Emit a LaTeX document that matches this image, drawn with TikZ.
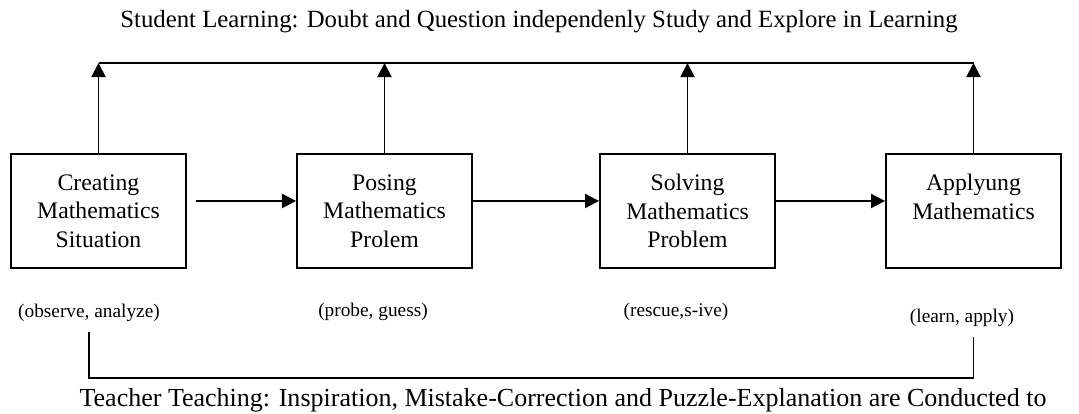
\documentclass[tikz,border=0pt]{standalone}
\usepackage{fontspec}
\setmainfont{Liberation Serif}
\usetikzlibrary{arrows.meta,positioning,calc}

\begin{document}
\begin{tikzpicture}[x=0.02cm, y=0.02cm, line width=1.1pt,
  stage/.style={draw, minimum width=3.5cm, minimum height=2.28cm, align=center,
    inner sep=2pt, font=\fontsize{13.5}{16.2}\selectfont},
  note/.style={font=\fontsize{11}{13}\selectfont},
  flow/.style={-{Triangle[length=8pt,width=8pt]}}]
  \useasboundingbox (0,0) rectangle (1079,413);
  % title line
  \node[font=\fontsize{14.1}{16}\selectfont] (learn) at (539,391)
    {Student Learning: Doubt and Question independenly Study and Explore in Learning};
  % stages
  \node[stage] (create) at (98.5,202) {Creating\\Mathematics\\Situation};
  \node[stage] (pose) at (384.5,202) {Posing\\Mathematics\\Prolem};
  \node[stage] (solve) at (687.5,202) {Solving\\Mathematics\\Problem};
  \node[stage] (apply) at (973.5,202) {Applyung\\Mathematics\\~};
  % arrows between stages
  \draw[flow] ([xshift=5pt,yshift=5.7pt]create.east) -- ([yshift=5.7pt]pose.west);
  \draw[flow] ([yshift=5.7pt]pose.east) -- ([yshift=5.7pt]solve.west);
  \draw[flow] ([yshift=5.7pt]solve.east) -- ([yshift=5.7pt]apply.west);
  % up to the student line
  \coordinate (t1) at (create.north |- 0,350);
  \coordinate (t2) at (pose.north |- 0,350);
  \coordinate (t3) at (solve.north |- 0,350);
  \coordinate (t4) at (apply.north |- 0,350);
  \draw (t1) -- (t4);
  \foreach \s/\t in {create/t1,pose/t2,solve/t3,apply/t4}
    \draw[flow] (\s.north) -- (\t);
  % notes
  \node[note] (obs) at (89,100) {(observe, analyze)};
  \node[note] (probe) at (373,101) {(probe, guess)};
  \node[note] (rescue) at (676,101) {(rescue,s-ive)};
  \node[note] (use) at (962,95) {(learn, apply)};
  % teacher line
  \coordinate (b1) at (obs.south |- 0,35);
  \coordinate (b4) at (apply.south |- 0,35);
  \draw ([yshift=-2pt]obs.south) -- (b1) -- (b4) -- ([yshift=-2pt]use.south -| apply.south);
  \node[font=\fontsize{14.8}{16}\selectfont] (teach) at (563,13)
    {Teacher Teaching: Inspiration, Mistake-Correction and Puzzle-Explanation are Conducted to};
\end{tikzpicture}
\end{document}
